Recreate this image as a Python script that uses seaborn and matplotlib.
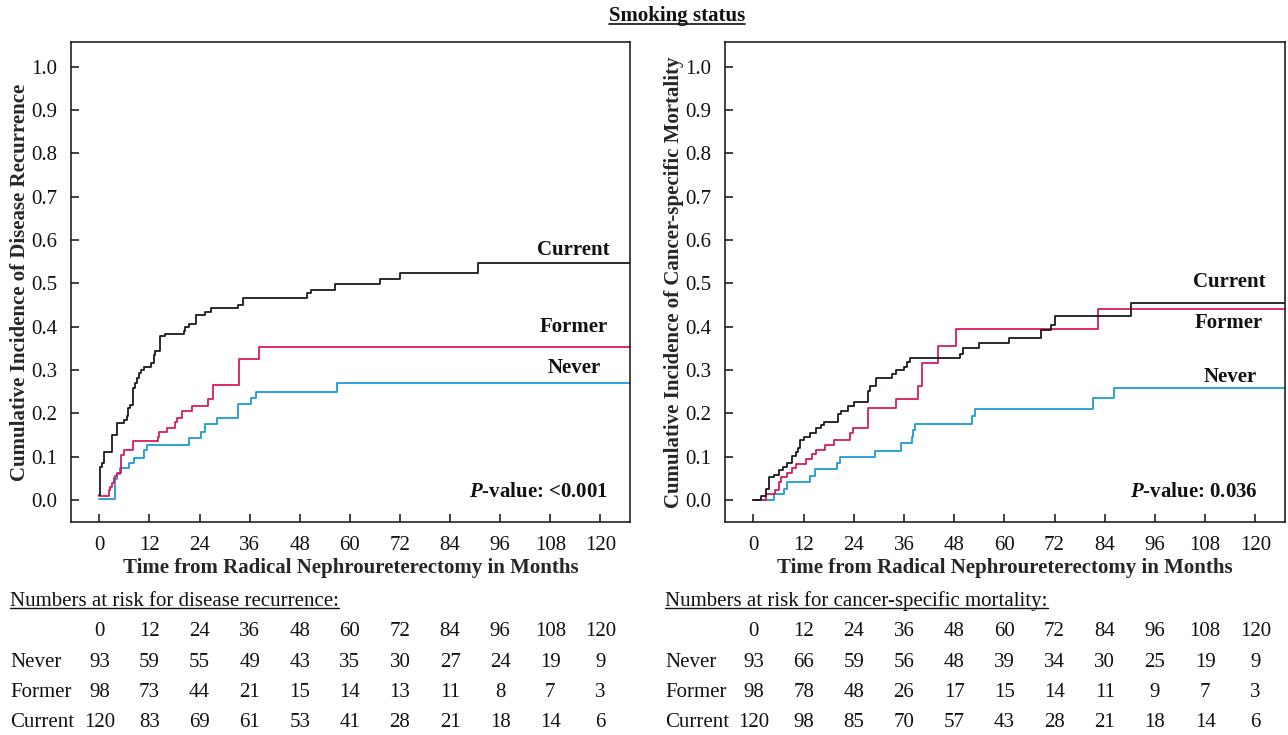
import numpy as np
import pandas as pd
import matplotlib
matplotlib.use("Agg")
import matplotlib.pyplot as plt
import seaborn as sns
from matplotlib.lines import Line2D
from matplotlib.transforms import blended_transform_factory

# ---------------- data ----------------
groups = ["Never", "Former", "Current"]
colors = {"Never": "#1e9ad6", "Former": "#d81b60", "Current": "#1a1a1a"}

# Disease recurrence (left panel)
rec_never_t = [0, 3.8, 4.2, 5.0, 7.0, 8.4, 10.6, 11.4, 21.5, 24.3, 25.2, 28.2, 33.2, 36.2, 37.4, 57.0]
rec_never_v = [0.002, 0.048, 0.060, 0.074, 0.085, 0.098, 0.115, 0.127, 0.142, 0.158, 0.175, 0.190, 0.221, 0.236, 0.249, 0.271]
rec_former_t = [0, 2.3, 2.6, 3.0, 3.4, 3.8, 4.2, 5.1, 6.0, 8.0, 14.0, 14.3, 16.2, 18.2, 18.6, 19.8, 22.3, 26.0, 27.2, 33.4, 38.3]
rec_former_v = [0.010, 0.022, 0.031, 0.040, 0.050, 0.056, 0.062, 0.103, 0.115, 0.135, 0.146, 0.158, 0.165, 0.179, 0.190, 0.205, 0.218, 0.233, 0.265, 0.325, 0.353]
rec_current_t = [0, 0.2, 0.7, 1.2, 3.0, 4.1, 6.0, 6.5, 6.9, 7.4, 8.0, 8.6, 9.0, 9.4, 10.0, 10.8, 12.4, 13.0, 13.4,
                 14.4, 15.8, 20.2, 20.6, 21.4, 23.2, 25.2, 26.7, 33.2, 34.4, 49.8, 50.6, 56.5, 67.2, 72.0, 90.7]
rec_current_v = [0.012, 0.077, 0.085, 0.111, 0.150, 0.177, 0.185, 0.193, 0.212, 0.219, 0.258, 0.270, 0.281, 0.292, 0.300,
                 0.308, 0.317, 0.335, 0.343, 0.378, 0.383, 0.390, 0.400, 0.407, 0.427, 0.433, 0.442, 0.450, 0.467, 0.477,
                 0.485, 0.498, 0.509, 0.523, 0.546]

# Cancer-specific mortality (right panel)
csm_never_t = [0, 5.0, 7.2, 8.1, 13.5, 14.8, 20.0, 20.7, 29.1, 35.2, 37.8, 38.2, 38.7, 52.2, 52.9, 81.1, 86.3]
csm_never_v = [0, 0.013, 0.025, 0.041, 0.055, 0.071, 0.085, 0.100, 0.114, 0.131, 0.146, 0.162, 0.175, 0.194, 0.211, 0.235, 0.259]
csm_former_t = [0, 3.0, 5.2, 6.1, 6.5, 8.1, 9.2, 10.2, 12.6, 14.0, 15.0, 17.2, 19.2, 23.2, 23.7, 27.3, 34.2, 39.3, 40.4, 44.2, 48.5, 82.3]
csm_former_v = [0, 0.013, 0.023, 0.042, 0.052, 0.063, 0.073, 0.083, 0.095, 0.106, 0.115, 0.128, 0.138, 0.154, 0.165, 0.213,
                0.234, 0.262, 0.317, 0.355, 0.395, 0.441]
csm_current_t = [0, 1.9, 3.0, 3.8, 5.0, 6.1, 7.0, 8.1, 9.2, 10.2, 10.6, 11.1, 12.2, 13.6, 15.0, 16.2, 16.8, 20.1, 21.0, 22.5,
                 24.1, 27.3, 27.8, 29.2, 33.2, 34.2, 36.1, 36.6, 37.4, 49.3, 50.0, 54.0, 61.0, 68.8, 71.2, 72.2, 90.3]
csm_current_v = [0, 0.010, 0.026, 0.052, 0.058, 0.069, 0.075, 0.086, 0.102, 0.110, 0.119, 0.138, 0.146, 0.155, 0.165, 0.172,
                 0.181, 0.198, 0.206, 0.218, 0.225, 0.252, 0.262, 0.281, 0.291, 0.299, 0.308, 0.319, 0.328, 0.337, 0.350,
                 0.363, 0.375, 0.392, 0.405, 0.425, 0.454]

follow_up_end = 128

risk_times = [0, 12, 24, 36, 48, 60, 72, 84, 96, 108, 120]
rec_risk_never = [93, 59, 55, 49, 43, 35, 30, 27, 24, 19, 9]
rec_risk_former = [98, 73, 44, 21, 15, 14, 13, 11, 8, 7, 3]
rec_risk_current = [120, 83, 69, 61, 53, 41, 28, 21, 18, 14, 6]
csm_risk_never = [93, 66, 59, 56, 48, 39, 34, 30, 25, 19, 9]
csm_risk_former = [98, 78, 48, 26, 17, 15, 14, 11, 9, 7, 3]
csm_risk_current = [120, 98, 85, 70, 57, 43, 28, 21, 18, 14, 6]

title = "Smoking status"
xlabel = "Time from Radical Nephroureterectomy in Months"
ylabel_rec = "Cumulative Incidence of Disease Recurrence"
ylabel_csm = "Cumulative Incidence of Cancer-specific Mortality"
pval_rec = "<0.001"
pval_csm = "0.036"
risk_title_rec = "Numbers at risk for disease recurrence:"
risk_title_csm = "Numbers at risk for cancer-specific mortality:"

# ---------------- style ----------------
sns.set_style("ticks")
plt.rcParams["font.family"] = ["Liberation Serif", "DejaVu Serif"]
plt.rcParams["mathtext.fontset"] = "custom"
plt.rcParams["mathtext.it"] = "Liberation Serif:italic:bold"
plt.rcParams["mathtext.rm"] = "Liberation Serif:bold"
plt.rcParams["mathtext.bf"] = "Liberation Serif:bold"
FS = 15

W_PX, H_PX = 1288, 735
fig = plt.figure(figsize=(W_PX / 100, H_PX / 100), dpi=100)
fig.patch.set_facecolor("white")

ax_rec = fig.add_axes([71 / W_PX, 213 / H_PX, 559 / W_PX, 480 / H_PX])
ax_csm = fig.add_axes([725 / W_PX, 213 / H_PX, 560 / W_PX, 480 / H_PX])


def make_df(ts, vs):
    rows = []
    for g, t, v in zip(groups, ts, vs):
        tt = list(t) + [follow_up_end]
        vv = list(v) + [v[-1]]
        rows.append(pd.DataFrame({"t": tt, "v": vv, "group": g}))
    return pd.concat(rows, ignore_index=True)


df_rec = make_df([rec_never_t, rec_former_t, rec_current_t], [rec_never_v, rec_former_v, rec_current_v])
df_csm = make_df([csm_never_t, csm_former_t, csm_current_t], [csm_never_v, csm_former_v, csm_current_v])

for ax, df, ylab in [(ax_rec, df_rec, ylabel_rec), (ax_csm, df_csm, ylabel_csm)]:
    sns.lineplot(data=df, x="t", y="v", hue="group", hue_order=groups, palette=colors,
                 estimator=None, drawstyle="steps-post", linewidth=1.3, legend=False, ax=ax)
    ax.set_xlim(-6.8, 127.1)
    ax.set_ylim(-0.0508, 1.057)
    ax.set_xticks(risk_times)
    ax.set_xticklabels([str(t) for t in risk_times])
    yt = np.round(np.arange(0, 1.01, 0.1), 1)
    ax.set_yticks(yt)
    ax.set_yticklabels([f"{y:.1f}" for y in yt])
    ax.tick_params(direction="in", length=6, width=1.1, pad=10, labelsize=FS, colors="#111111")
    for s in ax.spines.values():
        s.set_visible(True)
        s.set_linewidth(1.1)
        s.set_color("#111111")
    ax.set_xlabel(xlabel, fontsize=FS, fontweight="bold")
    ax.set_ylabel(ylab, fontsize=FS, fontweight="bold")
    ax.xaxis.set_label_coords(0.5, -0.076)
    ax.yaxis.set_label_coords(-0.074, 0.5)
    ax.set_facecolor("white")

# curve labels
lab_kw = dict(fontsize=FS, fontweight="bold", ha="right", va="baseline", color="#111111")
ax_rec.text(122.3, 0.565, "Current", **lab_kw)
ax_rec.text(121.9, 0.388, "Former", **lab_kw)
ax_rec.text(120.1, 0.294, "Never", **lab_kw)
ax_rec.text(121.9, 0.0077, r"$\mathit{P}$-value: " + pval_rec, **lab_kw)
ax_csm.text(122.4, 0.492, "Current", **lab_kw)
ax_csm.text(121.8, 0.396, "Former", **lab_kw)
ax_csm.text(120.4, 0.273, "Never", **lab_kw)
ax_csm.text(120.6, 0.0077, r"$\mathit{P}$-value: " + pval_csm, **lab_kw)

# title
t_title = fig.text(677 / W_PX, 1 - 20.7 / H_PX, title, fontsize=FS, fontweight="bold",
                   ha="center", va="baseline", color="#111111")

# risk tables
def risk_table(ax, x_lab_px, ttl, risks):
    tr = blended_transform_factory(ax.transData, fig.transFigure)
    tt = fig.text(x_lab_px / W_PX, 1 - 605.7 / H_PX, ttl, fontsize=FS, ha="left", va="baseline", color="#111111")
    for t in risk_times:
        ax.text(t, 1 - 635.7 / H_PX, str(t), transform=tr, fontsize=FS, ha="center", va="baseline",
                clip_on=False, color="#111111")
    for g, vals, yb in zip(groups, risks, [666.7, 696.7, 726.7]):
        fig.text(x_lab_px / W_PX, 1 - yb / H_PX, g, fontsize=FS, ha="left", va="baseline", color="#111111")
        for t, n in zip(risk_times, vals):
            ax.text(t, 1 - yb / H_PX, str(n), transform=tr, fontsize=FS, ha="center", va="baseline",
                    clip_on=False, color="#111111")
    return tt


tt_rec = risk_table(ax_rec, 10, risk_title_rec, [rec_risk_never, rec_risk_former, rec_risk_current])
tt_csm = risk_table(ax_csm, 665, risk_title_csm, [csm_risk_never, csm_risk_former, csm_risk_current])

# underlines
fig.canvas.draw()
renderer = fig.canvas.get_renderer()


def underline(txt, offset_px, lw=1.0):
    bb = txt.get_window_extent(renderer)
    _, yb = txt.get_transform().transform(txt.get_position())
    y = (yb - offset_px) / fig.bbox.height
    fig.add_artist(Line2D([bb.x0 / fig.bbox.width, bb.x1 / fig.bbox.width], [y, y],
                          transform=fig.transFigure, color="#111111", lw=lw))


underline(t_title, 3.0, lw=1.2)
underline(tt_rec, 2.5)
underline(tt_csm, 2.5)

fig.savefig("out.png", dpi=100, facecolor="white")
